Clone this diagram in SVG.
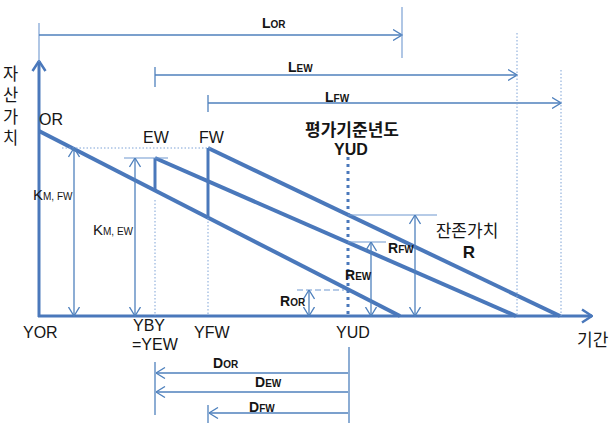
<svg xmlns="http://www.w3.org/2000/svg" width="609" height="423" viewBox="0 0 609 423">
  <style>
    .txt { font-family: "Liberation Sans", "Noto Sans CJK KR", sans-serif; fill: #151515; }
    .kr { font-family: "Noto Sans CJK KR", "Liberation Sans", sans-serif; fill: #151515; }
    .b { font-weight: bold; }
    .thick { stroke: #4a78bb; stroke-width: 4; fill: none; }
    .axis { stroke: #4a78bb; stroke-width: 3; fill: none; }
    .thin { stroke: #4f81bd; stroke-width: 1.3; fill: none; }
    .light { stroke: #6f98d0; stroke-width: 1.1; fill: none; }
    .dot { stroke: #7ea3d6; stroke-width: 1; stroke-dasharray: 1.5 2; fill: none; }
  </style>
  <defs>
    <marker id="open" markerUnits="userSpaceOnUse" markerWidth="10" markerHeight="12" viewBox="0 0 10 12" refX="9.5" refY="6" orient="auto-start-reverse">
      <path d="M0.5,0.5 L9.5,6 L0.5,11.5" fill="none" stroke="#4f81bd" stroke-width="1.3"/>
    </marker>
    <marker id="axisHead" markerUnits="userSpaceOnUse" markerWidth="12" markerHeight="16" viewBox="0 0 12 16" refX="11" refY="8" orient="auto">
      <path d="M1,1.5 L11,8 L1,14.5" fill="none" stroke="#4a78bb" stroke-width="2.5"/>
    </marker>
  </defs>

  <!-- axes -->
  <g id="axes">
    <line class="axis" x1="39" y1="317" x2="39" y2="61" marker-end="url(#axisHead)"/>
    <line class="axis" x1="38" y1="316" x2="592" y2="316" marker-end="url(#axisHead)"/>
    <text class="kr" font-size="16.5" x="10.5" y="65" writing-mode="vertical-rl" letter-spacing="5">자산가치</text>
    <text class="kr" font-size="17" x="577" y="346">기간</text>
  </g>

  <!-- depreciation lines -->
  <g id="node-OR">
    <line class="thick" x1="39" y1="131" x2="400" y2="316"/>
    <text class="txt" font-size="16" x="39" y="125">OR</text>
  </g>
  <g id="node-EW">
    <line class="thick" x1="155" y1="158" x2="516" y2="316"/>
    <line class="axis" x1="155" y1="158" x2="155" y2="191"/>
    <text class="txt" font-size="16" x="143" y="143">EW</text>
  </g>
  <g id="node-FW">
    <line class="thick" x1="208" y1="148" x2="560" y2="316"/>
    <line class="axis" x1="208" y1="148" x2="208" y2="216"/>
    <text class="txt" font-size="16" x="199" y="143">FW</text>
  </g>

  <!-- evaluation year -->
  <g id="node-YUD">
    <line x1="348" y1="157" x2="348" y2="316" stroke="#4a78bb" stroke-width="3" stroke-dasharray="3 4"/>
    <text class="kr b" font-size="17" x="352" y="136" text-anchor="middle">평가기준년도</text>
    <text class="txt b" font-size="16" x="351" y="155" text-anchor="middle">YUD</text>
  </g>

  <g id="connectors">
    <!-- life spans -->
    <line class="light" x1="39" y1="23" x2="39" y2="62"/>
    <line class="thin" x1="39" y1="35" x2="402" y2="35" marker-end="url(#open)"/>
    <line class="light" x1="402" y1="7" x2="402" y2="58"/>
    <line class="thin" x1="155" y1="67" x2="155" y2="87"/>
    <line class="thin" x1="155" y1="75" x2="517" y2="75" marker-end="url(#open)"/>
    <line class="thin" x1="208" y1="95" x2="208" y2="112"/>
    <line class="thin" x1="208" y1="103" x2="561" y2="103" marker-end="url(#open)"/>
    <line class="dot" x1="517" y1="33" x2="517" y2="316"/>
    <line class="dot" x1="561" y1="70" x2="561" y2="316"/>

    <!-- construction value heights -->
    <line class="dot" x1="62" y1="148" x2="212" y2="148"/>
    <line class="thin" x1="74" y1="148" x2="74" y2="316" marker-start="url(#open)" marker-end="url(#open)"/>
    <line class="light" x1="124" y1="158" x2="168" y2="158"/>
    <line class="thin" x1="135" y1="158" x2="135" y2="316" marker-start="url(#open)" marker-end="url(#open)"/>
    <line class="dot" x1="155" y1="200" x2="155" y2="316"/>
    <line class="dot" x1="208" y1="218" x2="208" y2="316"/>

    <!-- residual values -->
    <line class="light" x1="348" y1="215" x2="437" y2="215"/>
    <line class="thin" x1="415" y1="215" x2="415" y2="316" marker-start="url(#open)" marker-end="url(#open)"/>
    <line class="light" x1="348" y1="242" x2="386" y2="242"/>
    <line class="thin" x1="371" y1="242" x2="371" y2="316" marker-start="url(#open)" marker-end="url(#open)"/>
    <line class="light" x1="297" y1="290" x2="344" y2="290" stroke-dasharray="6 3"/>
    <line class="thin" x1="309" y1="290" x2="309" y2="316" marker-start="url(#open)" marker-end="url(#open)"/>

    <!-- elapsed periods -->
    <line class="thin" x1="349" y1="347" x2="349" y2="423"/>
    <line class="thin" x1="155" y1="362" x2="155" y2="415"/>
    <line class="thin" x1="208" y1="405" x2="208" y2="423"/>
    <line class="thin" x1="348" y1="373" x2="156" y2="373" marker-end="url(#open)"/>
    <line class="thin" x1="348" y1="392" x2="156" y2="392" marker-end="url(#open)"/>
    <line class="thin" x1="348" y1="413" x2="209" y2="413" marker-end="url(#open)"/>
  </g>

  <!-- labels -->
  <g id="labels">
    <text class="txt b" x="262" y="28"><tspan font-size="14">L</tspan><tspan font-size="10">OR</tspan></text>
    <text class="txt b" x="288" y="72"><tspan font-size="14">L</tspan><tspan font-size="10">EW</tspan></text>
    <text class="txt b" x="325" y="102"><tspan font-size="14">L</tspan><tspan font-size="10">FW</tspan></text>

    <text class="txt" x="33" y="200"><tspan font-size="15">K</tspan><tspan font-size="10">M, FW</tspan></text>
    <text class="txt" x="93" y="235"><tspan font-size="15">K</tspan><tspan font-size="10">M, EW</tspan></text>

    <text class="txt b" x="388" y="253"><tspan font-size="14">R</tspan><tspan font-size="10">FW</tspan></text>
    <text class="txt b" x="345" y="280"><tspan font-size="14">R</tspan><tspan font-size="10">EW</tspan></text>
    <text class="txt b" x="280" y="306"><tspan font-size="14">R</tspan><tspan font-size="10">OR</tspan></text>
    <text class="kr" font-size="17" x="467" y="237" text-anchor="middle">잔존가치</text>
    <text class="txt b" font-size="17" x="469" y="258" text-anchor="middle">R</text>

    <text class="txt" font-size="16" x="23" y="338">YOR</text>
    <text class="txt" font-size="16" x="133" y="331">YBY</text>
    <text class="txt" font-size="16" x="132" y="350">=YEW</text>
    <text class="txt" font-size="16" x="194" y="338">YFW</text>
    <text class="txt" font-size="16" x="336" y="338">YUD</text>

    <text class="txt b" x="213" y="368"><tspan font-size="14">D</tspan><tspan font-size="10">OR</tspan></text>
    <text class="txt b" x="255" y="387"><tspan font-size="14">D</tspan><tspan font-size="10">EW</tspan></text>
    <text class="txt b" x="249" y="412"><tspan font-size="14">D</tspan><tspan font-size="10">FW</tspan></text>
  </g>
</svg>
